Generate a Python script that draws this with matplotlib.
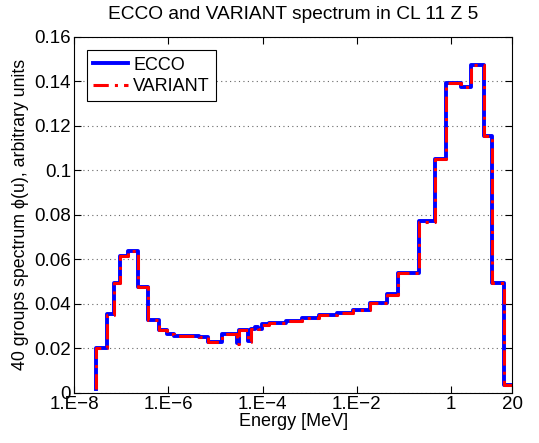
import numpy as np
import matplotlib
matplotlib.use('Agg')
import matplotlib.pyplot as plt

plt.rcParams['font.family'] = ['Liberation Sans', 'DejaVu Sans']

# group boundaries [MeV], ascending
limites = [2.92e-8, 5.0e-8, 6.9e-8, 9.4e-8, 1.37e-7, 2.31e-7, 3.76e-7, 6.43e-7,
           9.37e-7, 1.34e-6, 4.38e-6, 6.8e-6, 1.37e-5, 2.86e-5, 3.24e-5, 5.03e-5,
           5.65e-5, 6.98e-5, 8.2e-5, 9.96e-5, 1.38e-4, 3.17e-4, 7.02e-4, 1.61e-3,
           3.76e-3, 8.47e-3, 1.91e-2, 4.28e-2, 7.32e-2, 0.209, 0.457, 0.80, 1.62,
           2.65, 5.04, 7.48, 13.45, 20.0]

ecco = [0.0203, 0.0353, 0.0495, 0.0615, 0.0638, 0.0475, 0.0328, 0.0283, 0.0264,
        0.0258, 0.0250, 0.0228, 0.0264, 0.0223, 0.0282, 0.0233, 0.0287, 0.0295,
        0.0286, 0.0308, 0.0313, 0.0323, 0.0335, 0.0352, 0.0358, 0.0373, 0.0404,
        0.0443, 0.0537, 0.0771, 0.1052, 0.1391, 0.1374, 0.1471, 0.1154, 0.0493,
        0.0034]

variant = [0.0203, 0.0352, 0.0494, 0.0614, 0.0637, 0.0474, 0.0329, 0.0284, 0.0263,
           0.0257, 0.0251, 0.0227, 0.0265, 0.0219, 0.0283, 0.0230, 0.0288, 0.0294,
           0.0287, 0.0307, 0.0314, 0.0322, 0.0336, 0.0351, 0.0359, 0.0372, 0.0405,
           0.0442, 0.0538, 0.0770, 0.1051, 0.1392, 0.1372, 0.1472, 0.1153, 0.0494,
           0.0035]

valor_final = 0.0017  # last point of the stairs (lowest energy)

xticks = [1e-8, 1e-6, 1e-4, 1e-2, 1, 20]
xticklabels = ['1.E\u22128', '1.E\u22126', '1.E\u22124', '1.E\u22122', '1', '20']
yticks = [0, 0.02, 0.04, 0.06, 0.08, 0.1, 0.12, 0.14, 0.16]
yticklabels = ['0', '0.02', '0.04', '0.06', '0.08', '0.1', '0.12', '0.14', '0.16']


def escada(lim, val):
    x = [lim[0]] + list(lim)
    y = [valor_final] + list(val) + [val[-1]]
    return x, y


fig = plt.figure(figsize=(5.39, 4.43), dpi=100)
ax = fig.add_axes([0.1373, 0.1129, 0.8133, 0.8043])

x, y = escada(limites, ecco)
ax.step(x, y, where='post', color='blue', linewidth=2.8, label='ECCO')
x, y = escada(limites, variant)
ax.step(x, y, where='post', color='red', linewidth=2.2, linestyle='-.',
        dashes=(5, 2, 1, 2), label='VARIANT')

ax.set_xscale('log')
ax.set_xlim(1e-8, 20)
ax.set_ylim(0, 0.16)
ax.set_xticks(xticks)
ax.set_xticklabels(xticklabels)
ax.minorticks_off()
ax.set_yticks(yticks)
ax.set_yticklabels(yticklabels)
ax.tick_params(direction='in', top=True, right=True, labelsize=13.5, length=5,
               pad=2)
ax.yaxis.grid(True, linestyle=(0, (1, 3)), color='0.4', linewidth=0.8)

ax.set_xlabel('Energy [MeV]', fontsize=13, labelpad=0)
ax.set_ylabel('40 groups spectrum \u03d5(u), arbitrary units', fontsize=12.8,
              labelpad=4)
ax.set_title('ECCO and VARIANT spectrum in CL 11 Z 5', fontsize=13.8, pad=13)

leg = ax.legend(loc='upper left', fontsize=13, fancybox=False, framealpha=1,
                edgecolor='black', handlelength=1.9, borderpad=0.35,
                labelspacing=0.25, handletextpad=0.3, borderaxespad=0,
                bbox_to_anchor=(0.03, 0.962))
leg.get_frame().set_linewidth(0.8)

fig.savefig('out.png', dpi=100)
